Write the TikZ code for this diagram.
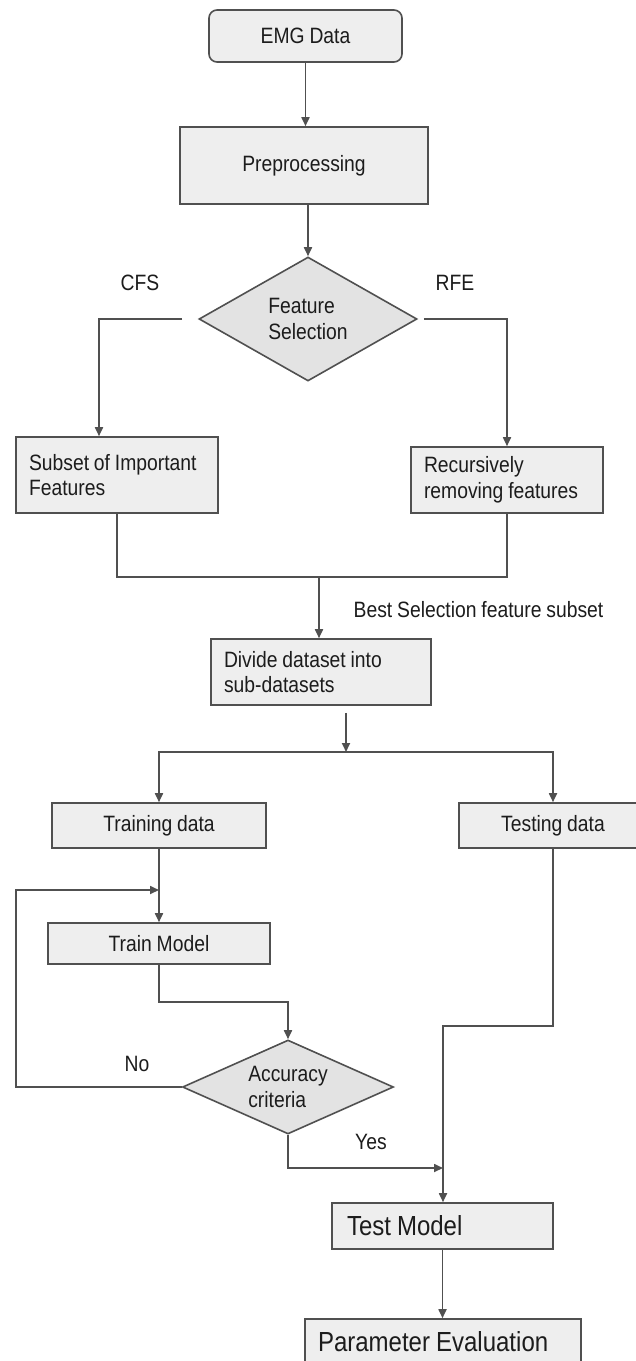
\documentclass[tikz,border=0pt]{standalone}
\usepackage{fontspec}
\setmainfont{Liberation Sans}[FakeStretch=0.87,WordSpace=0.9]
\usetikzlibrary{shapes.geometric,arrows.meta}
\definecolor{lncol}{HTML}{505050}
\definecolor{bxcol}{HTML}{EEEEEE}
\definecolor{dmcol}{HTML}{E3E3E3}
\definecolor{txcol}{HTML}{1C1C1C}
\newcommand\fsnorm{\fontsize{22.2}{25.5}\selectfont}
\newcommand\fsbig{\fontsize{27.6}{31}\selectfont}
\begin{document}
\begin{tikzpicture}[x=1pt,y=-1pt,
  wire/.style={draw=lncol,line width=1.7pt},
  arr/.style={wire,-{Triangle[length=9pt,width=8pt]}},
  box/.style={draw=lncol,fill=bxcol,line width=1.6pt,inner sep=0pt,text=txcol,font=\fsnorm},
  dia/.style={shape=diamond,aspect=2,draw=lncol,fill=dmcol,line width=1.6pt,inner sep=0pt,text=txcol,font=\fsnorm,align=flush left},
  lbl/.style={text=txcol,font=\fsnorm,inner sep=0pt}]
\useasboundingbox (0,0) rectangle (636,1361);

% nodes
\node[box,rounded corners=8pt,minimum width=193pt,minimum height=52pt] (emg) at (305.5,36) {EMG Data};
\node[box,minimum width=248pt,minimum height=77pt] (pre) at (304,165.5) {Preprocessing};
\node[dia,minimum width=218pt,minimum height=124pt] (fs) at (308,319) {Feature\\Selection};
\node[box,minimum width=202pt,minimum height=76pt,text width=176pt,align=flush left] (sub) at (117,475) {Subset of Important\\Features};
\node[box,minimum width=192pt,minimum height=66pt,text width=166pt,align=flush left] (rec) at (507,480) {Recursively\\removing features};
\node[box,minimum width=220pt,minimum height=66pt,text width=194pt,align=flush left] (div) at (321,672) {Divide dataset into\\sub-datasets};
\node[box,minimum width=214pt,minimum height=45pt] (train) at (159,825.5) {Training data};
\node[box,minimum width=188pt,minimum height=45pt] (test) at (553,825.5) {Testing data};
\node[box,minimum width=222pt,minimum height=41pt] (tm) at (159,943.5) {Train Model};
\node[dia,minimum width=211pt,minimum height=94pt] (acc) at (288,1087) {Accuracy\\criteria};
\node[box,font=\fsbig,minimum width=221pt,minimum height=46pt,text width=191pt,align=flush left] (tmo) at (442.5,1226) {Test Model};
\node[box,font=\fsbig,minimum width=276pt,minimum height=46pt,text width=250pt,align=flush left] (pe) at (443,1342) {Parameter Evaluation};

% labels
\node[lbl] (cfs) at (140,283) {CFS};
\node[lbl] (rfe) at (455,283) {RFE};
\node[lbl] (best) at (478.5,610) {Best Selection feature subset};
\node[lbl] (no) at (137,1064) {No};
\node[lbl] (yes) at (371,1142) {Yes};

% coordinates
\coordinate (merge) at (319,577);
\coordinate (split) at (346,752);
\coordinate (loopTL) at (16,890);
\coordinate (tmbend) at (288,1002);
\coordinate (join) at (443,1168);
\coordinate (tbend) at (443,1026);

% connectors
\draw[arr] (emg.south) -- (emg.south |- pre.north);
\draw[arr] (fs.north |- pre.south) -- (fs.north);
\draw[arr] ([xshift=-16pt]fs.west) -| ([xshift=-18pt]sub.north);
\draw[arr] ([xshift=6pt]fs.east) -| (rec.north);
\draw[wire] (sub.south) -- (sub.south |- merge) -- (rec.south |- merge) -- (rec.south);
\draw[arr] (merge) -- (merge |- div.north);
\draw[arr] ([xshift=25pt,yshift=-7pt]div.south) -- (split);
\draw[arr] (split) -| (train.north);
\draw[arr] (split) -| (test.north);
\draw[arr] (train.south) -- (tm.north);
\draw[arr] (acc.west) -| (loopTL) -- (loopTL -| train.south);
\draw[arr] (tm.south) |- (tmbend) -- (acc.north);
\draw[arr] (acc.south) |- (join);
\draw[arr] (test.south) |- (tbend) -- (tbend |- tmo.north);
\draw[arr] (tmo.south) -- (tmo.south |- pe.north);
\end{tikzpicture}
\end{document}
